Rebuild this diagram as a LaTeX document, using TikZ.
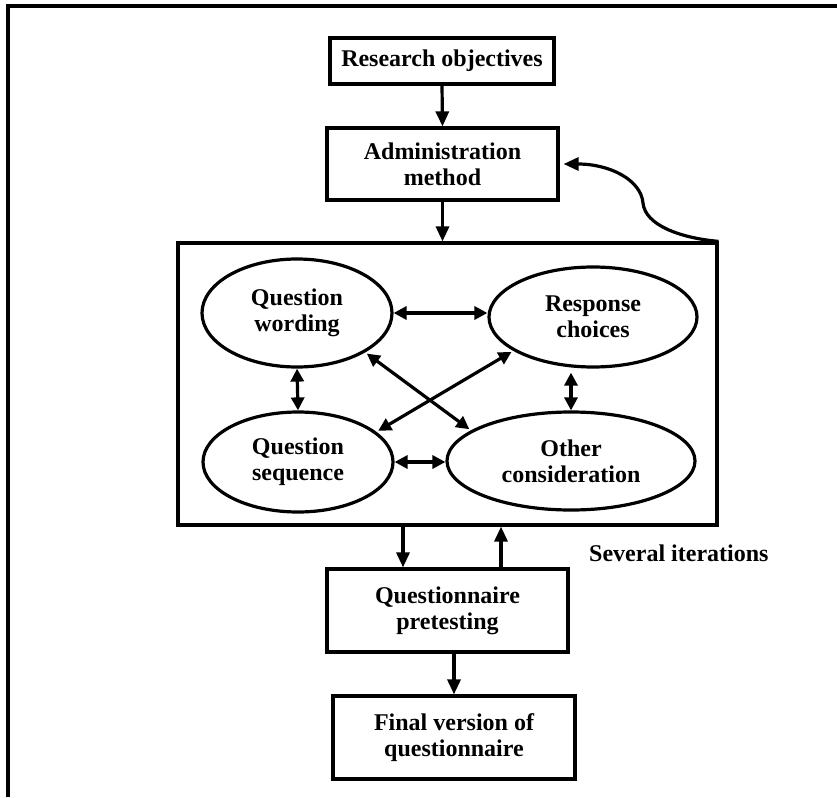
\documentclass[tikz,border=0pt]{standalone}
\usepackage{fontspec}
\setmainfont{Liberation Serif}
\usetikzlibrary{arrows.meta,shapes.geometric,calc}
\begin{document}
\begin{tikzpicture}[x=1pt,y=-1pt,
  every node/.style={font=\fontsize{24}{26}\selectfont\bfseries, align=center, inner sep=0pt},
  box/.style={draw, line width=3.2pt, rectangle},
  oval/.style={draw, line width=3.2pt, ellipse},
  arr/.style={line width=3.2pt, -{Triangle[length=15pt,width=13pt]}},
  darr/.style={line width=3.2pt, {Triangle[length=13pt,width=13pt]}-{Triangle[length=13pt,width=13pt]}},
]
\useasboundingbox (0,0) rectangle (837,797);
\draw[line width=3.5pt] (8,797) -- (8,6) -- (837,6);

% boxes
\node[box, minimum width=224pt, minimum height=46pt] (RO) at (442,61) {Research objectives};
\node[box, minimum width=231pt, minimum height=72pt] (AM) at (442.5,164) {Administration\\method};
\node[box, minimum width=539pt, minimum height=282pt] (BB) at (447.5,384) {};
\node[box, minimum width=241pt, minimum height=83pt] (PT) at (447.5,610.5) {Questionnaire\\pretesting};
\node[box, minimum width=242pt, minimum height=83pt] (FV) at (454,737.5) {Final version of\\questionnaire};

% ellipses
\node[oval, minimum width=190pt, minimum height=108pt] (QW) at (297,313) {Question\\wording};
\node[oval, minimum width=190pt, minimum height=100pt] (QS) at (298,462) {Question\\sequence};
\node[oval, minimum width=208pt, minimum height=100pt] (RC) at (593,317) {Response\\choices};
\node[oval, minimum width=248pt, minimum height=98pt] (OC) at (571,461) {Other\\consideration};

\node[anchor=west] (SI) at (589,553) {Several iterations};

% vertical flow
\draw[arr] (RO.south) -- (AM.north);
\draw[arr] (AM.south) -- (AM.south |- BB.north);
\draw[arr] ([xshift=-44.5pt]BB.south) -- ([xshift=-44.5pt]PT.north);
\draw[arr] ([xshift=53.5pt]PT.north) -- ([xshift=53.5pt]BB.south);
\draw[arr] (FV.north |- PT.south) -- (FV.north);

% feedback curve
\draw[arr] (BB.north east) .. controls (680,238) and (645,225) .. (643,203)
  .. controls (641,180) and (610,164) .. ([xshift=4pt]AM.east);

% inner double arrows
\draw[darr] (QW.east) -- (QW.east -| RC.west);
\draw[darr] (QS.east) -- (QS.east -| OC.west);
\draw[darr] (QW.south) -- (QS.north);
\draw[darr, shorten <=4pt] (OC.north |- RC.south) -- (OC.north);
\draw[darr, shorten <=2pt, shorten >=2pt] (QW.-30) -- (OC.163);
\draw[darr, shorten <=2pt, shorten >=2pt] (RC.-157) -- (QS.21);
\end{tikzpicture}
\end{document}
